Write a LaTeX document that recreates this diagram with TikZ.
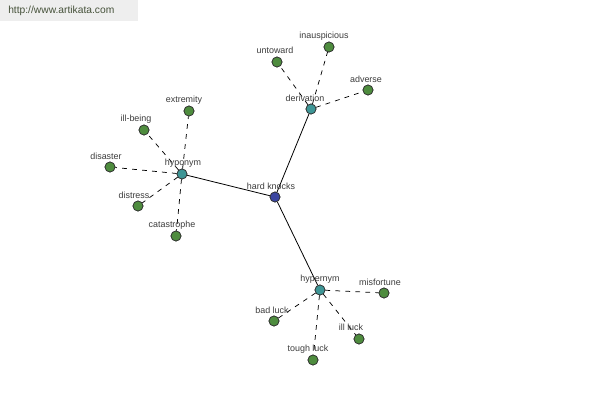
\documentclass[tikz,border=0pt]{standalone}
\usepackage{fontspec}
\setmainfont{Liberation Sans}
\definecolor{leafc}{RGB}{78,140,62}
\definecolor{hubc}{RGB}{62,150,150}
\definecolor{rootc}{RGB}{60,70,160}
\definecolor{txtc}{RGB}{60,60,60}
\definecolor{wmbg}{RGB}{238,238,238}
\definecolor{wmtx}{RGB}{70,82,58}
\begin{document}
\begin{tikzpicture}[x=0.75pt,y=-0.75pt,
  leaf/.style={circle,draw=black!80,line width=0.5pt,fill=leafc,minimum size=7.5pt,inner sep=0pt},
  hub/.style={circle,draw=black!80,line width=0.5pt,fill=hubc,minimum size=7.5pt,inner sep=0pt},
  root/.style={circle,draw=black!80,line width=0.5pt,fill=rootc,minimum size=7.5pt,inner sep=0pt},
  lbl/.style={font=\fontsize{6.7}{7}\selectfont,text=txtc,inner sep=0pt},
  solidedge/.style={draw=black,line width=0.6pt},
  dashedge/.style={draw=black,line width=0.55pt,dash pattern=on 3.6pt off 3.9pt}]
\useasboundingbox (0,0) rectangle (600,400);
\fill[white] (0,0) rectangle (600,400);
\fill[wmbg] (0,0) rectangle (138,21);
\node[font=\fontsize{7.7}{9}\selectfont,text=wmtx,inner sep=0pt,anchor=west] (wm) at (8,11) {http://www.artikata.com};

% nodes
\node[root] (hk) at (275,197) {};
\node[hub] (der) at (311,109) {};
\node[hub] (hypo) at (182,174) {};
\node[hub] (hyper) at (320,290) {};
\node[leaf] (untoward) at (277,62) {};
\node[leaf] (inausp) at (329,47) {};
\node[leaf] (adverse) at (368,90) {};
\node[leaf] (extremity) at (189,111) {};
\node[leaf] (illbeing) at (144,130) {};
\node[leaf] (disaster) at (110,167) {};
\node[leaf] (distress) at (138,206) {};
\node[leaf] (catas) at (176,236) {};
\node[leaf] (misf) at (384,293) {};
\node[leaf] (badluck) at (274,321) {};
\node[leaf] (illluck) at (359,339) {};
\node[leaf] (toughluck) at (313,360) {};

% edges
\path[solidedge] (hk) -- (der);
\path[solidedge] (hk) -- (hypo);
\path[solidedge] (hk) -- (hyper);
\path[dashedge] (der) -- (untoward);
\path[dashedge] (der) -- (inausp);
\path[dashedge] (der) -- (adverse);
\path[dashedge] (hypo) -- (extremity);
\path[dashedge] (hypo) -- (illbeing);
\path[dashedge] (hypo) -- (disaster);
\path[dashedge] (hypo) -- (distress);
\path[dashedge] (hypo) -- (catas);
\path[dashedge] (hyper) -- (misf);
\path[dashedge] (hyper) -- (badluck);
\path[dashedge] (hyper) -- (illluck);
\path[dashedge] (hyper) -- (toughluck);

% labels
\node[lbl] (hkL) at (271,186) {hard knocks};
\node[lbl] (derL) at (305,98) {derivation};
\node[lbl] (hypoL) at (183,163) {hyponym};
\node[lbl] (hyperL) at (320,279) {hypernym};
\node[lbl] (untowardL) at (275,50) {untoward};
\node[lbl] (inauspL) at (324,36) {inauspicious};
\node[lbl] (adverseL) at (366,79) {adverse};
\node[lbl] (extremityL) at (184,100) {extremity};
\node[lbl] (illbeingL) at (136,119) {ill-being};
\node[lbl] (disasterL) at (106,156) {disaster};
\node[lbl] (distressL) at (134,195) {distress};
\node[lbl] (catasL) at (172,225) {catastrophe};
\node[lbl] (misfL) at (380,282) {misfortune};
\node[lbl] (badluckL) at (272,310) {bad luck};
\node[lbl] (illluckL) at (351,327) {ill luck};
\node[lbl] (toughluckL) at (308,349) {tough luck};

% redraw circles on top of edges
\foreach \n/\s in {hk/root,der/hub,hypo/hub,hyper/hub,untoward/leaf,inausp/leaf,adverse/leaf,extremity/leaf,illbeing/leaf,disaster/leaf,distress/leaf,catas/leaf,misf/leaf,badluck/leaf,illluck/leaf,toughluck/leaf}
  \node[\s] at (\n) {};
\end{tikzpicture}
\end{document}
